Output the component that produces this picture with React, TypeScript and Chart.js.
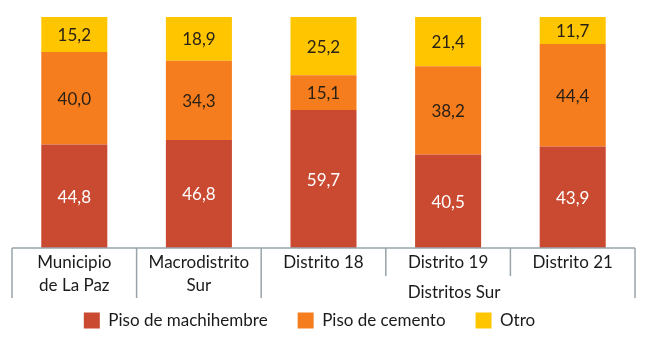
import React, { useEffect, useRef } from "react";
import { Chart, registerables } from "chart.js";

Chart.register(...registerables);

const categories: string[][] = [
  ["Municipio", "de La Paz"],
  ["Macrodistrito", "Sur"],
  ["Distrito 18"],
  ["Distrito 19"],
  ["Distrito 21"],
];
const groupLabel = "Distritos Sur";
const machihembre = [44.8, 46.8, 59.7, 40.5, 43.9];
const cemento = [40.0, 34.3, 15.1, 38.2, 44.4];
const otro = [15.2, 18.9, 25.2, 21.4, 11.7];
const seriesNames = ["Piso de machihembre", "Piso de cemento", "Otro"];

const FONT = "Lato, 'Open Sans', sans-serif";
const COLORS = ["#C94A30", "#F67D1E", "#FFC600"];
const LABEL_COLORS = ["#FFFFFF", "#2a2116", "#2a2116"];

const overlayPlugin = {
  id: "overlay",
  afterLayout(chart: any) {
    if (chart.legend) {
      chart.legend.left -= 14;
      chart.legend.right -= 14;
    }
  },
  afterDatasetsDraw(chart: any) {
    const ctx = chart.ctx;
    ctx.save();
    ctx.font = `17px ${FONT}`;
    ctx.textAlign = "center";
    ctx.textBaseline = "middle";
    chart.data.datasets.forEach((ds: any, di: number) => {
      const meta = chart.getDatasetMeta(di);
      meta.data.forEach((el: any, i: number) => {
        const v = ds.data[i];
        const y = (el.y + el.base) / 2;
        ctx.fillStyle = LABEL_COLORS[di];
        ctx.fillText(v.toFixed(1).replace(".", ","), el.x, y + 1);
      });
    });
    ctx.restore();
  },
  afterDraw(chart: any) {
    const ctx = chart.ctx;
    const xs = chart.scales.x;
    const yb = chart.chartArea.bottom;
    const n = categories.length;
    const bounds: number[] = [xs.left];
    for (let i = 1; i < n; i++) {
      bounds.push((xs.getPixelForValue(i - 1) + xs.getPixelForValue(i)) / 2);
    }
    bounds.push(xs.right);
    ctx.save();
    ctx.strokeStyle = "#98A4AA";
    ctx.lineWidth = 1.5;
    ctx.beginPath();
    ctx.moveTo(xs.left, yb);
    ctx.lineTo(xs.right, yb);
    bounds.forEach((b, i) => {
      const len = i === 3 || i === 4 ? 28 : 50;
      ctx.moveTo(b, yb);
      ctx.lineTo(b, yb + len);
    });
    ctx.stroke();
    ctx.fillStyle = "#1a1a1a";
    ctx.font = `17px ${FONT}`;
    ctx.textAlign = "center";
    ctx.textBaseline = "middle";
    categories.forEach((lines, i) => {
      const x = xs.getPixelForValue(i);
      lines.forEach((t, li) => {
        ctx.fillText(t, x, yb + 15 + li * 23);
      });
    });
    ctx.fillText(groupLabel, (bounds[2] + bounds[5]) / 2 + 6, yb + 45);
    ctx.restore();
  },
};

export default function App() {
  const ref = useRef<HTMLCanvasElement>(null);
  useEffect(() => {
    if (!ref.current) return;
    const chart = new Chart(ref.current, {
      type: "bar",
      data: {
        labels: categories.map((l) => l.join(" ")),
        datasets: [machihembre, cemento, otro].map((d, i) => ({
          label: seriesNames[i],
          data: d,
          backgroundColor: COLORS[i],
          borderWidth: 0,
          categoryPercentage: 1,
          barPercentage: 0.53,
        })),
      },
      options: {
        animation: false,
        responsive: false,
        maintainAspectRatio: false,
        layout: { padding: { left: 12, right: 15, top: 17, bottom: 1 } },
        plugins: {
          legend: {
            position: "bottom",
            labels: {
              boxWidth: 16,
              boxHeight: 16,
              padding: 30,
              color: "#1a1a1a",
              font: { family: FONT, size: 17 },
            },
          },
          tooltip: { enabled: false },
        },
        scales: {
          x: {
            stacked: true,
            grid: { display: false, drawTicks: false },
            border: { display: false },
            ticks: { display: false },
            afterFit: (s: any) => {
              s.height = 34;
            },
          },
          y: {
            stacked: true,
            display: false,
            min: 0,
            max: 100,
          },
        },
      },
      plugins: [overlayPlugin],
    });
    return () => chart.destroy();
  }, []);
  return (
    <div style={{ position: "fixed", left: 0, top: 0, width: 650, height: 340, background: "#fff" }}>
      <canvas ref={ref} width={650} height={340} />
    </div>
  );
}
